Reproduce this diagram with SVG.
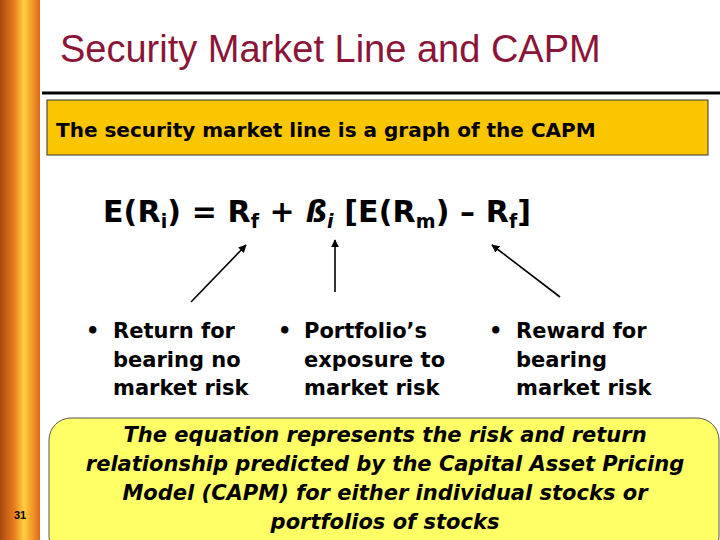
<svg xmlns="http://www.w3.org/2000/svg" width="720" height="540" viewBox="0 0 720 540">
<defs>
<linearGradient id="strip" x1="0" y1="0" x2="1" y2="0">
<stop offset="0" stop-color="#a84a10"/>
<stop offset="0.35" stop-color="#e87a1c"/>
<stop offset="0.6" stop-color="#ffd040"/>
<stop offset="0.8" stop-color="#f59a28"/>
<stop offset="1" stop-color="#d86a18"/>
</linearGradient>
<marker id="ah" viewBox="0 0 10 10" refX="9" refY="5" markerWidth="5" markerHeight="5" orient="auto"><path d="M0,0 L10,5 L0,10 z" fill="#000"/></marker>
<style>
.b{font-family:"DejaVu Sans",Verdana,sans-serif;font-weight:bold;fill:#000}
.f{font-size:30px}
.s{font-size:19px}
.l{font-size:21px}
.c{font-family:"DejaVu Sans",Verdana,sans-serif;font-weight:bold;font-style:italic;font-size:21px;fill:#000;text-anchor:middle}
.ar{stroke:#000;stroke-width:1.6;fill:none;marker-end:url(#ah)}
</style>
</defs>
<rect width="720" height="540" fill="#fff"/>
<rect x="0" y="0" width="40" height="540" fill="url(#strip)"/>
<text x="20" y="519" font-family="Liberation Sans,Arial,sans-serif" font-weight="bold" font-size="11" text-anchor="middle" fill="#000">31</text>
<g id="title">
<text x="60" y="62" font-family="Liberation Sans,Arial,sans-serif" font-size="38" fill="#8b1538">Security Market Line and CAPM</text>
<line x1="42" y1="93" x2="720" y2="93" stroke="#000" stroke-width="3"/>
</g>
<g id="banner">
<rect x="47" y="100" width="661" height="55" fill="#f9c600" stroke="#333" stroke-width="1"/>
<text x="56" y="137" class="b" font-size="20">The security market line is a graph of the CAPM</text>
</g>
<g id="formula">
<text x="103" y="222" class="b f" textLength="428">E(R<tspan class="s" dy="6">i</tspan><tspan dy="-6">) = R</tspan><tspan class="s" dy="6">f</tspan><tspan dy="-6"> + </tspan><tspan font-style="italic">ß</tspan><tspan class="s" font-style="italic" dy="6">i</tspan><tspan dy="-6"> [E(R</tspan><tspan class="s" dy="6">m</tspan><tspan dy="-6">) – R</tspan><tspan class="s" dy="6">f</tspan><tspan dy="-6">]</tspan></text>
</g>
<g id="connectors">
<line class="ar" x1="191" y1="302" x2="246" y2="245"/>
<line class="ar" x1="335" y1="292" x2="335" y2="240"/>
<line class="ar" x1="560" y1="297" x2="492" y2="245"/>
</g>
<g id="riskfree">
<text x="86" y="338" class="b l">•</text>
<text x="113" y="338" class="b l">Return for</text>
<text x="113" y="367" class="b l">bearing no</text>
<text x="113" y="395" class="b l">market risk</text>
</g>
<g id="beta">
<text x="278" y="338" class="b l">•</text>
<text x="304" y="338" class="b l">Portfolio’s</text>
<text x="304" y="367" class="b l">exposure to</text>
<text x="304" y="395" class="b l">market risk</text>
</g>
<g id="premium">
<text x="489" y="338" class="b l">•</text>
<text x="516" y="338" class="b l">Reward for</text>
<text x="516" y="367" class="b l">bearing</text>
<text x="516" y="395" class="b l">market risk</text>
</g>
<g id="callout">
<rect x="49" y="418" width="670" height="140" rx="22" fill="#ffff66" stroke="#555" stroke-width="1"/>
<text x="385" y="442" class="c">The equation represents the risk and return</text>
<text x="385" y="471" class="c">relationship predicted by the Capital Asset Pricing</text>
<text x="385" y="500" class="c">Model (CAPM) for either individual stocks or</text>
<text x="385" y="529" class="c">portfolios of stocks</text>
</g>
</svg>
